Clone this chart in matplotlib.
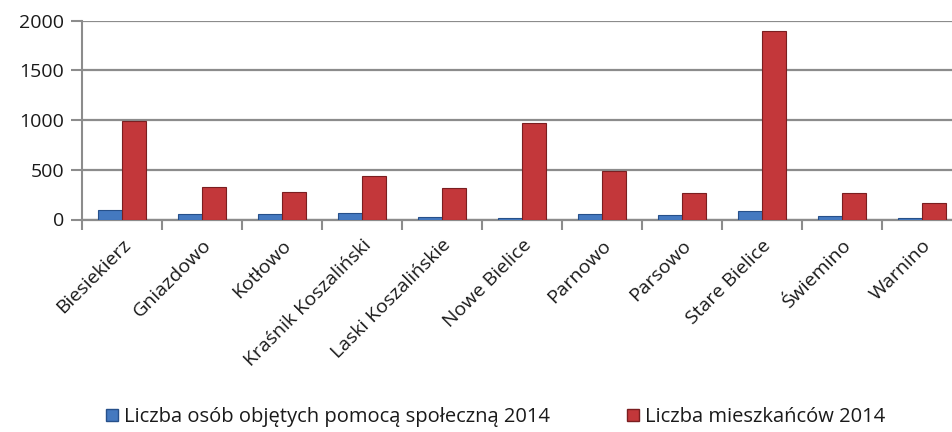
import matplotlib
matplotlib.use('Agg')
import matplotlib.pyplot as plt
import numpy as np
from matplotlib.patches import Patch

# dane
gminy = ['Biesiekierz', 'Gniazdowo', 'Kotłowo', 'Kraśnik Koszaliński', 'Laski Koszalińskie',
         'Nowe Bielice', 'Parnowo', 'Parsowo', 'Stare Bielice', 'Świemino', 'Warnino']
pomoc_2014 = [95, 55, 55, 65, 25, 12, 58, 45, 85, 35, 15]
mieszkancy_2014 = [990, 330, 277, 441, 320, 970, 488, 267, 1896, 267, 166]
y_ticks = [0, 500, 1000, 1500, 2000]

plt.rcParams['font.family'] = ['Open Sans', 'DejaVu Sans']
plt.rcParams['text.color'] = '#1a1a1a'
plt.rcParams['xtick.color'] = '#1a1a1a'
plt.rcParams['ytick.color'] = '#1a1a1a'

fig = plt.figure(figsize=(9.52, 4.32), dpi=100)
ax = fig.add_axes([82 / 952, 212.5 / 432, 880 / 952, 198.8 / 432])

x = np.arange(len(gminy))
w = 0.3
grid_color = '#8c8c8c'

ax.bar(x - w / 2, pomoc_2014, width=w, color='#4479c0', edgecolor='#26508a', linewidth=0.8, zorder=3)
ax.bar(x + w / 2, mieszkancy_2014, width=w, color='#c3373a', edgecolor='#7a1e20', linewidth=0.8, zorder=3)

ax.set_xlim(-0.5, len(gminy) - 0.5)
ax.set_ylim(0, 2000)
ax.set_yticks(y_ticks)
ax.tick_params(axis='y', length=8, width=1.5, color=grid_color, labelsize=14, pad=5)
ax.yaxis.grid(True, color=grid_color, linewidth=1.6, zorder=0)

ax.set_xticks(x)
ax.set_xticklabels(gminy, rotation=45, ha='right', rotation_mode='anchor', fontsize=14)
ax.tick_params(axis='x', which='major', length=0, pad=12)
ax.set_xticks(np.arange(len(gminy) + 1) - 0.5, minor=True)
ax.tick_params(axis='x', which='minor', length=7, width=1.5, color=grid_color)

for s in ['top', 'right']:
    ax.spines[s].set_visible(False)
ax.spines['left'].set_color(grid_color)
ax.spines['left'].set_linewidth(1.5)
ax.spines['bottom'].set_color(grid_color)
ax.spines['bottom'].set_linewidth(1.6)

handles = [Patch(facecolor='#4479c0', edgecolor='#26508a'),
           Patch(facecolor='#c3373a', edgecolor='#7a1e20')]
fig.legend(handles, ['Liczba osób objętych pomocą społeczną 2014', 'Liczba mieszkańców 2014'],
           loc='center left', bbox_to_anchor=(88 / 952, 1 - 417 / 432), ncol=2, frameon=False,
           fontsize=14.5, handlelength=0.6, handleheight=0.6, handletextpad=0.3, columnspacing=3.8)

fig.savefig('out.png', dpi=100)
